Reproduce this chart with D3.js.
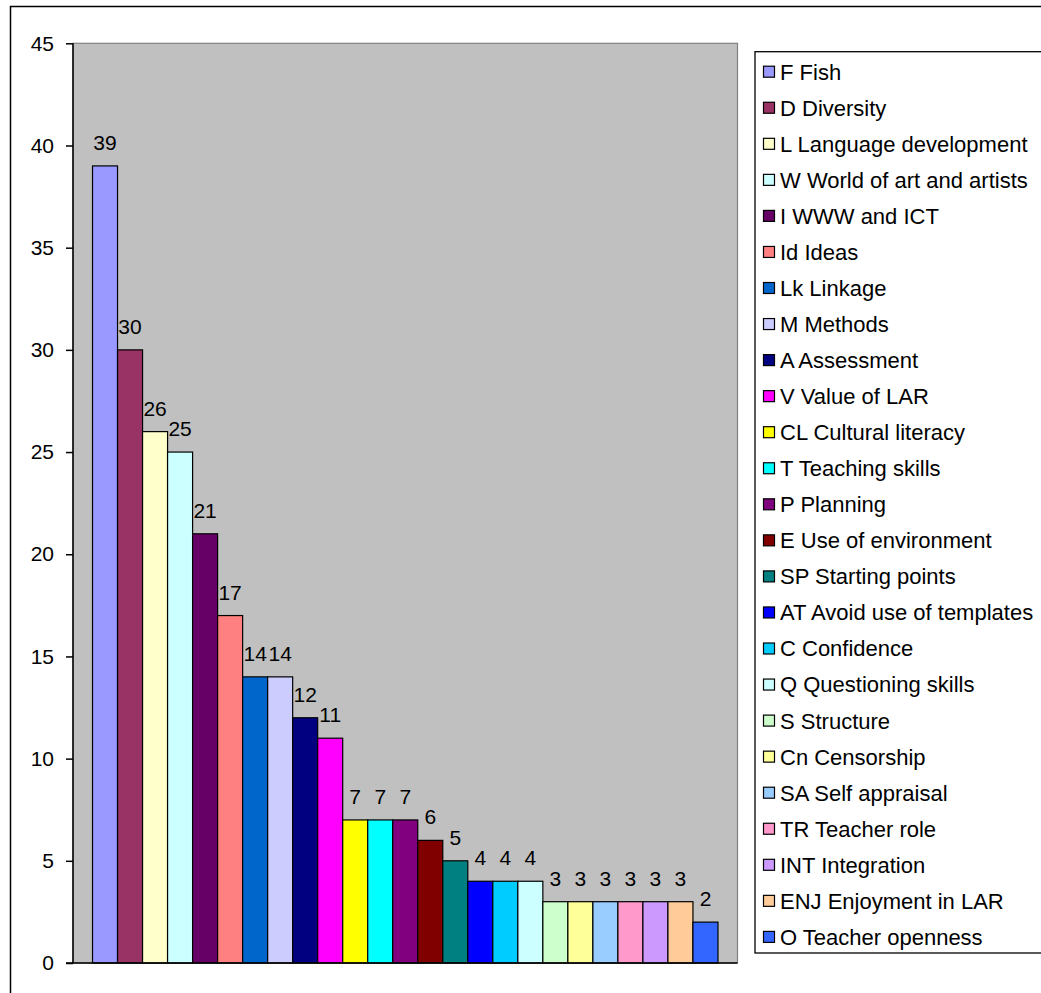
<!DOCTYPE html>
<html>
<head>
<meta charset="utf-8">
<script src="https://cdn.jsdelivr.net/npm/d3@7"></script>
<style>
  html, body { margin: 0; padding: 0; background: #ffffff; }
  svg { display: block; font-family: "Liberation Sans", Arial, sans-serif; }
</style>
</head>
<body>
<svg id="chart" width="1041" height="993"></svg>
<script>
// Category codes, their full legend names, counts and fill colours
const codes = ["F","D","L","W","I","Id","Lk","M","A","V","CL","T","P","E","SP","AT","C","Q","S","Cn","SA","TR","INT","ENJ","O"];
const names = ["Fish","Diversity","Language development","World of art and artists","WWW and ICT","Ideas","Linkage","Methods","Assessment","Value of LAR","Cultural literacy","Teaching skills","Planning","Use of environment","Starting points","Avoid use of templates","Confidence","Questioning skills","Structure","Censorship","Self appraisal","Teacher role","Integration","Enjoyment in LAR","Teacher openness"];
const counts = [39,30,26,25,21,17,14,14,12,11,7,7,7,6,5,4,4,4,3,3,3,3,3,3,2];
const colors = ["#9999FF","#993366","#FFFFCC","#CCFFFF","#660066","#FF8080","#0066CC","#CCCCFF","#000080","#FF00FF","#FFFF00","#00FFFF","#800080","#800000","#008080","#0000FF","#00CCFF","#CCFFFF","#CCFFCC","#FFFF99","#99CCFF","#FF99CC","#CC99FF","#FFCC99","#3366FF"];
const yTicks = [0,5,10,15,20,25,30,35,40,45];

const data = codes.map((c, i) => ({ code: c, name: names[i], value: counts[i], color: colors[i] }));

const svg = d3.select("#chart");

// Outer chart frame
svg.append("rect")
  .attr("x", 10.5).attr("y", 6.5)
  .attr("width", 1200).attr("height", 1200)
  .attr("fill", "none").attr("stroke", "#000").attr("stroke-width", 1.5);

// Plot area
const plot = { left: 73, top: 43.3, right: 737.5, bottom: 963 };

const y = d3.scaleLinear().domain([0, 45]).range([plot.bottom, plot.top]);
const x = d3.scaleBand()
  .domain(codes)
  .range([plot.left, plot.right])
  .paddingInner(0)
  .paddingOuter(0.78);

svg.append("rect")
  .attr("x", plot.left).attr("y", plot.top)
  .attr("width", plot.right - plot.left).attr("height", plot.bottom - plot.top)
  .attr("fill", "#C0C0C0").attr("stroke", "#808080").attr("stroke-width", 1.2);

// Bars
svg.append("g").selectAll("rect")
  .data(data)
  .join("rect")
  .attr("x", d => x(d.code))
  .attr("y", d => y(d.value))
  .attr("width", x.bandwidth())
  .attr("height", d => y(0) - y(d.value))
  .attr("fill", d => d.color)
  .attr("stroke", "#000")
  .attr("stroke-width", 1.2);

// Value labels
svg.append("g").selectAll("text")
  .data(data)
  .join("text")
  .attr("x", d => x(d.code) + x.bandwidth() / 2)
  .attr("y", d => y(d.value) - 16)
  .attr("text-anchor", "middle")
  .attr("font-size", 21)
  .attr("fill", "#000")
  .text(d => d.value);

// Y axis
const yAxis = d3.axisLeft(y).tickValues(yTicks).tickSize(7).tickPadding(12).tickFormat(d3.format("d"));
const gy = svg.append("g")
  .attr("transform", `translate(${plot.left},0)`)
  .call(yAxis);
gy.select(".domain").attr("stroke", "#000").attr("stroke-width", 1.5).attr("d", `M0,${plot.top}V${plot.bottom}`);
gy.selectAll(".tick line").attr("stroke", "#000").attr("stroke-width", 1.5);
gy.selectAll(".tick text")
  .attr("font-size", 21)
  .attr("font-family", "'Liberation Sans', Arial, sans-serif")
  .attr("fill", "#000");

// Category axis baseline
svg.append("line")
  .attr("x1", plot.left - 7).attr("x2", plot.right)
  .attr("y1", y(0)).attr("y2", y(0))
  .attr("stroke", "#000").attr("stroke-width", 1.5);

// Legend
const legend = { x: 755, y: 51.7, height: 901.3, rowStart: 71.7, rowStep: 36.05 };
svg.append("rect")
  .attr("x", legend.x).attr("y", legend.y)
  .attr("width", 400).attr("height", legend.height)
  .attr("fill", "#fff").attr("stroke", "#000").attr("stroke-width", 1.3);

const rows = svg.append("g").selectAll("g")
  .data(data)
  .join("g")
  .attr("transform", (d, i) => `translate(0,${legend.rowStart + i * legend.rowStep})`);

rows.append("rect")
  .attr("x", 763.5).attr("y", -5.5)
  .attr("width", 11).attr("height", 11)
  .attr("fill", d => d.color)
  .attr("stroke", "#000").attr("stroke-width", 1.2);

rows.append("text")
  .attr("x", 780)
  .attr("y", 0)
  .attr("dy", "0.36em")
  .attr("font-size", 22)
  .attr("fill", "#000")
  .text(d => `${d.code} ${d.name}`);
</script>
</body>
</html>
